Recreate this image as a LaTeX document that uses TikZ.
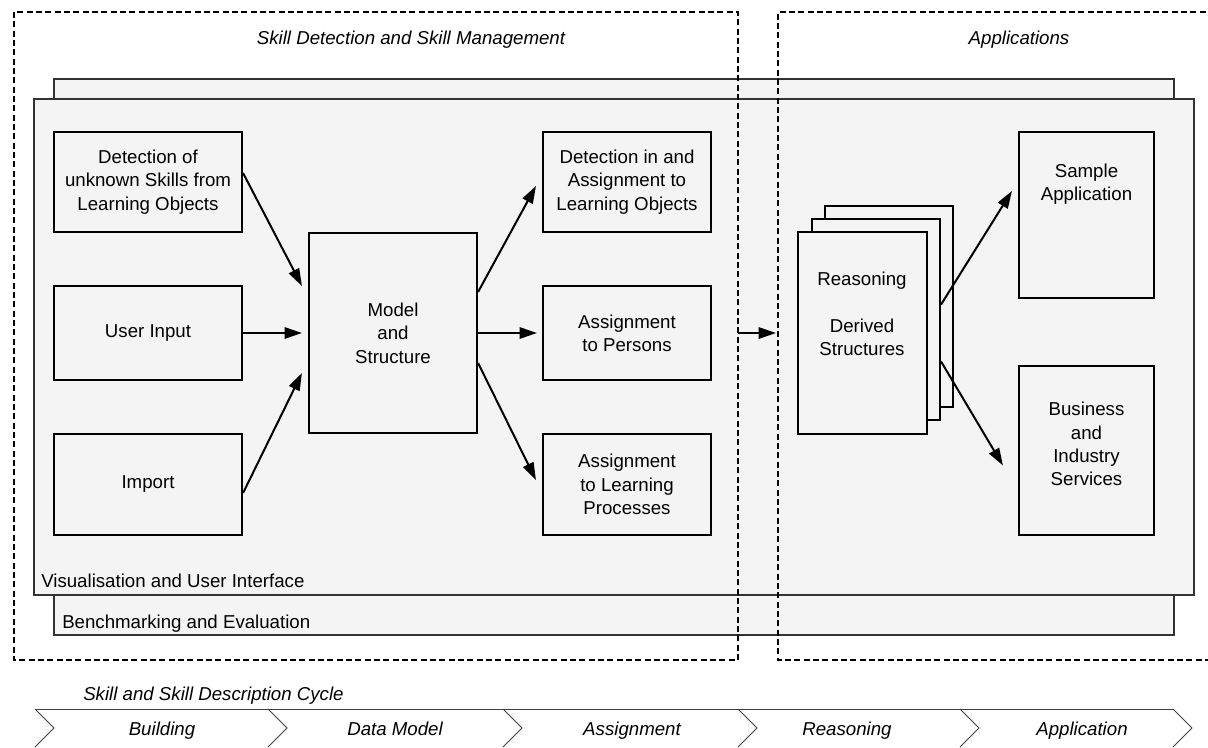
\documentclass[tikz,border=0pt]{standalone}
\usepackage{fontspec}
\setmainfont{Liberation Sans}
\usetikzlibrary{arrows.meta,calc}
\definecolor{bg}{HTML}{F4F4F4}
\definecolor{layerline}{HTML}{333333}
\begin{document}
\begin{tikzpicture}[x=0.75pt,y=-0.75pt,
  font=\fontsize{14pt}{17.5pt}\selectfont,
  layer/.style={draw=layerline, fill=bg, line width=0.8pt, inner sep=0pt},
  box/.style={draw=black, fill=bg, line width=1.6pt, align=center, inner sep=0pt},
  txt/.style={align=center, inner sep=0pt},
  lbl/.style={anchor=base west, inner sep=0pt},
  ital/.style={font=\fontsize{14pt}{17.5pt}\selectfont\itshape, inner sep=0pt},
  arr/.style={-{Triangle[length=13pt,width=8.5pt]}, line width=1.5pt},
  frame/.style={dash pattern=on 4.5pt off 2.5pt, line width=1.6pt},
  chev/.style={draw=black!75, line width=0.7pt}]
\useasboundingbox (0,0) rectangle (1208,747);
\clip (0,0) rectangle (1208,747);

% background layers
\node[layer, minimum width=840pt, minimum height=417pt] (bench) at (614,357) {};
\node[lbl] (benchlbl) at (62,628) {Benchmarking and Evaluation};
\node[layer, minimum width=870pt, minimum height=372pt] (vis) at (614,347) {};
\node[lbl] (vislbl) at (41,587) {Visualisation and User Interface};

% dashed frames
\draw[frame] (14,12) rectangle (738,660);
\draw[frame] (1215,12) -- (778,12) -- (778,660) -- (1215,660);
\node[ital] (t1) at (411,40) {Skill Detection and Skill Management};
\node[ital] (t2) at (1019,40) {Applications};

% left column
\node[box, minimum width=141pt, minimum height=75pt] (det) at (148,182) {Detection of\\unknown Skills from\\Learning Objects};
\node[box, minimum width=141pt, minimum height=70.5pt] (ui) at (148,333) {User Input};
\node[box, minimum width=141pt, minimum height=75.75pt] (imp) at (148,484.5) {Import};
% model
\node[box, minimum width=126pt, minimum height=150pt] (mod) at (393,333) {Model\\and\\Structure};
% right column
\node[box, minimum width=126pt, minimum height=75pt] (din) at (627,182) {Detection in and\\Assignment to\\Learning Objects};
\node[box, minimum width=126pt, minimum height=70.5pt] (ap) at (627,333) {Assignment\\to Persons};
\node[box, minimum width=126pt, minimum height=75.75pt] (alp) at (627,484.5) {Assignment\\to Learning\\Processes};

% reasoning stack
\node[box, minimum width=96pt, minimum height=150.75pt] (r3) at (889,306.5) {};
\node[box, minimum width=96pt, minimum height=150.75pt] (r2) at (876,319.5) {};
\node[box, minimum width=96.75pt, minimum height=151.5pt] (r1) at (862.5,333) {};
\node[txt] (rt) at (862,314) {Reasoning\\[17.5pt]Derived\\Structures};

% applications
\node[box, minimum width=101.25pt, minimum height=124.5pt] (sa) at (1086.5,215) {};
\node[txt] (sat) at (1086.5,184.5) {Sample\\Application};
\node[box, minimum width=101.25pt, minimum height=126.75pt] (bis) at (1086.5,450.5) {};
\node[txt] (bist) at (1086.5,444) {Business\\and\\Industry\\Services};

% arrows
\draw[arr] ($(det.east)+(0,-9)$) -- ($(mod.west)+(-6,-47)$);
\draw[arr] (ui.east) -- ($(mod.west)+(-6,0)$);
\draw[arr] ($(imp.east)+(0,8.5)$) -- ($(mod.west)+(-6,40)$);
\draw[arr] ($(mod.east)+(0,-41)$) -- ($(din.west)+(-6,4)$);
\draw[arr] (mod.east) -- ($(ap.west)+(-5,0)$);
\draw[arr] ($(mod.east)+(0,30)$) -- ($(alp.west)+(-6,-4.5)$);
\draw[arr] ($(r2.east)+(0,-15)$) -- ($(sa.west)+(-6,-24)$);
\draw[arr] ($(r2.east)+(0,42)$) -- ($(bis.west)+(-15,15)$);

\coordinate (fl) at (738,333);
\coordinate (fr) at (776,333);
\draw[arr] (fl) -- (fr);

% cycle strip
\node[ital, anchor=west] (cyc) at (83,696) {Skill and Skill Description Cycle};
\draw[chev] (35,709) -- (1173,709);
\foreach \x in {35,268,503,738,960,1173} {
  \draw[chev] (\x,709) -- (\x+19,728) -- (\x,747);
}
\node[ital, anchor=base] (c1) at (162,735) {Building};
\node[ital, anchor=base] (c2) at (395,735) {Data Model};
\node[ital, anchor=base] (c3) at (632,735) {Assignment};
\node[ital, anchor=base] (c4) at (847,735) {Reasoning};
\node[ital, anchor=base] (c5) at (1082,735) {Application};
\end{tikzpicture}
\end{document}
